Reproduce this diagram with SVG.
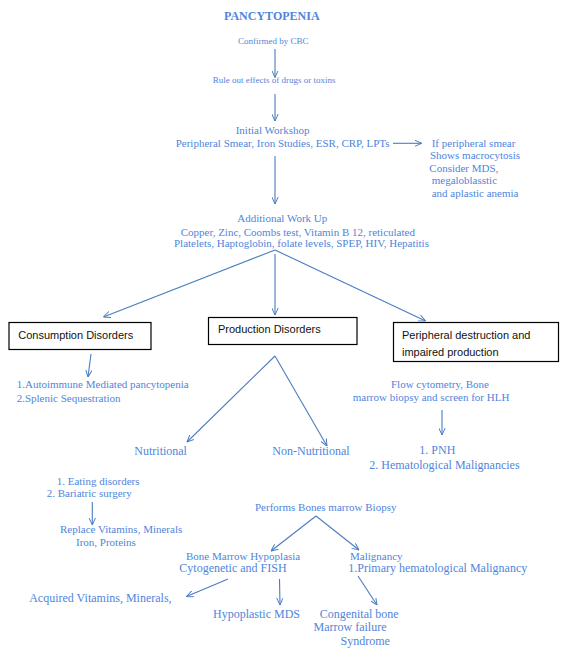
<svg xmlns="http://www.w3.org/2000/svg" width="570" height="653" viewBox="0 0 570 653">
<style>
.t{font-family:"Liberation Serif","Times New Roman",serif;fill:#4f85dc;font-size:11px}
.s9{font-size:9px}
.s12{font-size:12px}
.ttl{font-weight:bold;font-size:12px}
.bx{fill:#fff;stroke:#000;stroke-width:1.2}
.bt{font-family:"Liberation Sans",Arial,sans-serif;font-size:11px;fill:#111}
.c line{stroke:#4a7cc0;stroke-width:1.1;fill:none}
.a{marker-end:url(#ah)}
</style>
<defs>
<marker id="ah" viewBox="0 0 10 10" refX="10" refY="5" markerWidth="7" markerHeight="7" markerUnits="userSpaceOnUse" orient="auto">
<path d="M0,0.5 L10,5 L0,9.5" fill="none" stroke="#4a7cc0" stroke-width="1.4"/>
</marker>
</defs>
<rect width="570" height="653" fill="#fff"/>
<g id="title"><text class="t ttl" x="224" y="19.5">PANCYTOPENIA</text></g>
<g id="cbc"><text class="t s9" x="238" y="43.5">Confirmed by CBC</text></g>
<g id="ruleout"><text class="t s9" x="212.7" y="83.3">Rule out effects of drugs or toxins</text></g>
<g id="initial">
<text class="t" x="235.7" y="134">Initial Workshop</text>
<text class="t" x="175.7" y="146.7">Peripheral Smear, Iron Studies, ESR, CRP, LPTs</text>
</g>
<g id="smear">
<text class="t" x="431.7" y="146.7">If peripheral smear</text>
<text class="t" x="430" y="159.2">Shows macrocytosis</text>
<text class="t" x="429.3" y="171.7">Consider MDS,</text>
<text class="t" x="431.7" y="184.2">megaloblasstic</text>
<text class="t" x="431.7" y="196.7">and aplastic anemia</text>
</g>
<g id="additional">
<text class="t" x="237.3" y="222.3">Additional Work Up</text>
<text class="t" x="180.7" y="235.7">Copper, Zinc, Coombs test, Vitamin B 12, reticulated</text>
<text class="t" x="174" y="247.3">Platelets, Haptoglobin, folate levels, SPEP, HIV, Hepatitis</text>
</g>
<g id="consumption">
<rect class="bx" x="9" y="322.5" width="142" height="27"/>
<text class="bt" x="18.3" y="339">Consumption Disorders</text>
</g>
<g id="production">
<rect class="bx" x="208.5" y="317.5" width="148.5" height="27"/>
<text class="bt" x="218" y="333">Production Disorders</text>
</g>
<g id="peripheral">
<rect class="bx" x="393.5" y="322.5" width="165" height="39"/>
<text class="bt" x="402" y="339">Peripheral destruction and</text>
<text class="bt" x="402" y="356">impaired production</text>
</g>
<g id="consumption-causes">
<text class="t" x="16.7" y="388.3">1.Autoimmune Mediated pancytopenia</text>
<text class="t" x="16.7" y="401.7">2.Splenic Sequestration</text>
</g>
<g id="flow">
<text class="t" x="391" y="388.3">Flow cytometry, Bone</text>
<text class="t" x="352.7" y="401">marrow biopsy and screen for HLH</text>
</g>
<g id="nutritional"><text class="t s12" x="134.3" y="455">Nutritional</text></g>
<g id="nonnutritional"><text class="t s12" x="272.3" y="455">Non-Nutritional</text></g>
<g id="pnh">
<text class="t s12" x="419.3" y="454.3">1. PNH</text>
<text class="t s12" x="369.3" y="469.3">2. Hematological Malignancies</text>
</g>
<g id="eating">
<text class="t" x="56.7" y="485">1. Eating disorders</text>
<text class="t" x="46.7" y="497.3">2. Bariatric surgery</text>
</g>
<g id="replace">
<text class="t" x="60" y="533.3">Replace Vitamins, Minerals</text>
<text class="t" x="76" y="546">Iron, Proteins</text>
</g>
<g id="biopsy"><text class="t" x="255" y="510.7">Performs Bones marrow Biopsy</text></g>
<g id="hypoplasia">
<text class="t" x="186" y="560">Bone Marrow Hypoplasia</text>
<text class="t s12" x="179.3" y="572.3">Cytogenetic and FISH</text>
</g>
<g id="malignancy">
<text class="t" x="350" y="560">Malignancy</text>
<text class="t s12" x="348.3" y="572.3">1.Primary hematological Malignancy</text>
</g>
<g id="acquired"><text class="t s12" x="29.2" y="601.5">Acquired Vitamins, Minerals,</text></g>
<g id="hypomds"><text class="t s12" x="213" y="617.5">Hypoplastic MDS</text></g>
<g id="congenital">
<text class="t s12" x="319.7" y="617.5">Congenital bone</text>
<text class="t s12" x="313.5" y="631">Marrow failure</text>
<text class="t s12" x="340.5" y="645">Syndrome</text>
</g>
<g id="connectors" class="c">
<line class="a" x1="275" y1="49" x2="275" y2="77.5"/>
<line class="a" x1="275" y1="94" x2="275" y2="121"/>
<line class="a" x1="393" y1="143.3" x2="421.7" y2="143.3"/>
<line class="a" x1="275" y1="156" x2="275" y2="204"/>
<line class="a" x1="275" y1="250" x2="103.4" y2="317"/>
<line class="a" x1="275" y1="254" x2="275" y2="315"/>
<line class="a" x1="275" y1="250" x2="425.6" y2="321"/>
<line class="a" x1="91" y1="354" x2="88" y2="377"/>
<line class="a" x1="275" y1="356" x2="187" y2="442"/>
<line class="a" x1="275" y1="356" x2="327" y2="446"/>
<line class="a" x1="442" y1="410" x2="442" y2="435"/>
<line class="a" x1="92.3" y1="502" x2="92.3" y2="525"/>
<line class="a" x1="316" y1="516" x2="271" y2="551"/>
<line class="a" x1="316" y1="516" x2="359" y2="550"/>
<line class="a" x1="228" y1="579" x2="186.5" y2="596.5"/>
<line class="a" x1="279.5" y1="579" x2="280" y2="605"/>
<line class="a" x1="358" y1="576" x2="377" y2="605"/>
</g>
</svg>
